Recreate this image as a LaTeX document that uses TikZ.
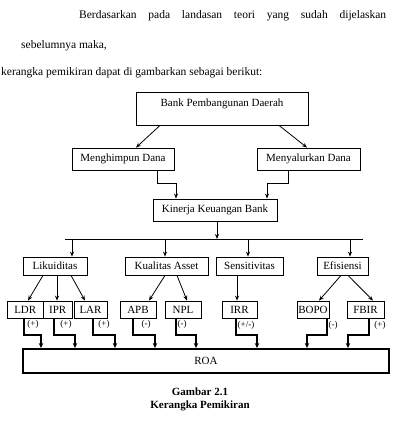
\documentclass[tikz,border=0pt]{standalone}
\usepackage{fontspec}
\setmainfont{Liberation Serif}
\usetikzlibrary{arrows.meta}
\begin{document}
\begin{tikzpicture}[x=1pt,y=-1pt,
  box/.style={draw, line width=0.8pt, inner sep=0pt, font=\fontsize{11}{12}\selectfont},
  thick box/.style={draw, line width=2pt, inner sep=0pt, font=\fontsize{11}{12}\selectfont},
  arr/.style={line width=0.8pt, -{Stealth[length=5pt,width=4pt]}},
  arrb/.style={line width=1.1pt, -{Stealth[length=5pt,width=4.5pt]}},
  sign/.style={inner sep=0pt, font=\fontsize{9}{10}\selectfont},
  para/.style={inner sep=0pt, anchor=west, font=\fontsize{11.5}{13}\selectfont}]
\useasboundingbox (0,0) rectangle (401,428);
% header text
\node[para] (h1) at (79,16) {\makebox[307pt][s]{Berdasarkan\hfill pada\hfill landasan\hfill teori\hfill yang\hfill sudah\hfill dijelaskan}};
\node[para] (h2) at (21,46) {sebelumnya maka,};
\node[para] (h3) at (1,73) {kerangka pemikiran dapat di gambarkan sebagai berikut:};
% top boxes
\node[box, minimum width=172pt, minimum height=33pt, text height=8pt, text depth=12pt] (bpd) at (222,108.5) {Bank Pembangunan Daerah};
\node[box, minimum width=102pt, minimum height=22pt] (mhd) at (123,159) {Menghimpun Dana};
\node[box, minimum width=103pt, minimum height=22pt] (myd) at (308.5,159) {Menyalurkan Dana};
\node[box, minimum width=124pt, minimum height=22pt] (kkb) at (215,210) {Kinerja Keuangan Bank};
% level 2
\node[box, minimum width=64pt, minimum height=18pt] (lik) at (55,266) {Likuiditas};
\node[box, minimum width=83pt, minimum height=18pt] (kua) at (166.5,266) {Kualitas Asset};
\node[box, minimum width=67pt, minimum height=18pt] (sen) at (249.5,266) {Sensitivitas};
\node[box, minimum width=51pt, minimum height=18pt] (efi) at (342.5,266) {Efisiensi};
% level 3
\node[box, minimum width=36.5pt, minimum height=17pt] (ldr) at (25.25,309.5) {LDR};
\node[box, minimum width=28.5pt, minimum height=17pt] (ipr) at (57.75,309.5) {IPR};
\node[box, minimum width=33pt, minimum height=17pt] (lar) at (90.5,309.5) {LAR};
\node[box, minimum width=36pt, minimum height=17pt] (apb) at (138,309.5) {APB};
\node[box, minimum width=36pt, minimum height=17pt] (npl) at (183,309.5) {NPL};
\node[box, minimum width=35pt, minimum height=17pt] (irr) at (239.5,309.5) {IRR};
\node[box, minimum width=32pt, minimum height=17pt] (bopo) at (313,309.5) {BOPO};
\node[box, minimum width=37pt, minimum height=17pt] (fbir) at (365.5,309.5) {FBIR};
% ROA
\node[thick box, minimum width=366pt, minimum height=24pt] (roa) at (206,361) {ROA};
% caption
\node[inner sep=0pt, font=\fontsize{11}{12}\selectfont\bfseries] (cap1) at (200,392) {Gambar 2.1};
\node[inner sep=0pt, font=\fontsize{11}{12}\selectfont\bfseries] (cap2) at (200,406) {Kerangka Pemikiran};
% connectors top
\draw[arr] (bpd.south -| 160,0) -- (mhd.north -| 136,0);
\draw[arr] (bpd.south -| 279,0) -- (myd.north -| 307,0);
\draw[arr] (mhd.south -| 157,0) |- (176,183) -- (kkb.north -| 176,0);
\draw[arr] (myd.south -| 288,0) |- (267,183) -- (kkb.north -| 267,0);
\coordinate (bl) at (65,239);
\coordinate (br) at (363,239);
\draw[line width=0.8pt] (bl) -- (br);
\draw[arr] (kkb.south -| 217,0) -- (217,239);
\draw[arr] (72,239) -- (lik.north -| 72,0);
\draw[arr] (165,239) -- (kua.north -| 165,0);
\draw[arr] (248,239) -- (sen.north -| 248,0);
\draw[arr] (350,239) -- (efi.north -| 350,0);
% level 2 to 3
\draw[arr] (lik.south -| 43,0) -- (ldr.north -| 28,0);
\draw[arr] (lik.south -| 57,0) -- (ipr.north -| 57,0);
\draw[arr] (lik.south -| 71,0) -- (lar.north -| 85,0);
\draw[arr] (kua.south -| 165,0) -- (apb.north -| 149,0);
\draw[arr] (kua.south -| 177,0) -- (npl.north -| 187,0);
\draw[arr] (sen.south -| 237,0) -- (irr.north -| 237,0);
\draw[arr] (efi.south -| 341,0) -- (bopo.north -| 319,0);
\draw[arr] (efi.south -| 348,0) -- (fbir.north -| 373,0);
% level 3 to ROA
\draw[arrb] (ldr.south -| 24,0) |- (41,335) -- (roa.north -| 41,0);
\draw[arrb] (ipr.south -| 54,0) |- (75,335) -- (roa.north -| 75,0);
\draw[arrb] (lar.south -| 93,0) |- (115,335) -- (roa.north -| 115,0);
\draw[arrb] (apb.south -| 133,0) |- (155,335) -- (roa.north -| 155,0);
\draw[arrb] (npl.south -| 176,0) |- (196,335) -- (roa.north -| 196,0);
\draw[arrb] (irr.south -| 236,0) |- (257,335) -- (roa.north -| 257,0);
\draw[arrb] (bopo.south -| 327,0) |- (307,335) -- (roa.north -| 307,0);
\draw[arrb] (fbir.south -| 369,0) |- (348,335) -- (roa.north -| 348,0);
% signs
\node[sign] (s1) at (33,324) {(+)};
\node[sign] (s2) at (66,324) {(+)};
\node[sign] (s3) at (104,324) {(+)};
\node[sign] (s4) at (146,324) {(-)};
\node[sign] (s5) at (182,324) {(-)};
\node[sign] (s6) at (246,325) {(+/-)};
\node[sign] (s7) at (333,325) {(-)};
\node[sign] (s8) at (380,325) {(+)};
\end{tikzpicture}
\end{document}
